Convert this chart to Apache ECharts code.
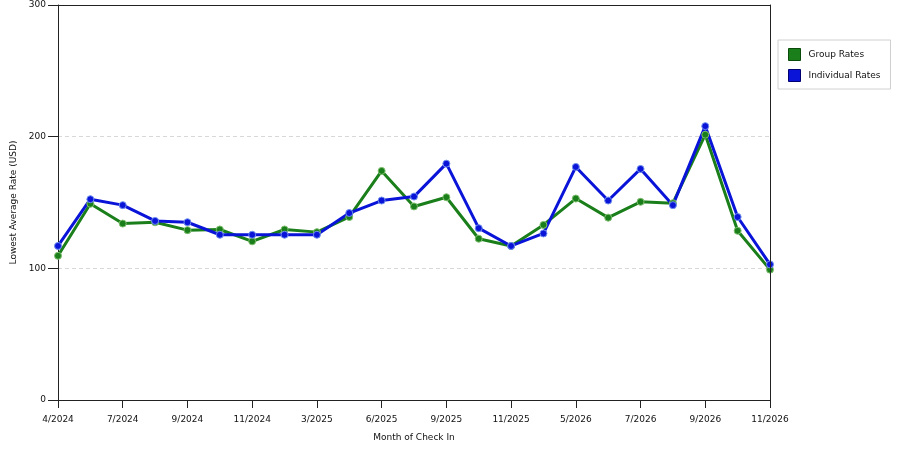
<!DOCTYPE html>
<html>
<head>
<meta charset="utf-8">
<script src="https://cdn.jsdelivr.net/npm/echarts@6/dist/echarts.min.js"></script>
<style>
  html, body { margin: 0; padding: 0; background: #fff; }
  #chart { width: 900px; height: 450px; }
</style>
</head>
<body>
<div id="chart"></div>
<script>
// ── Data ────────────────────────────────────────────────────────────────────
var months = ['4/2024', '6/2024', '7/2024', '8/2024', '9/2024', '10/2024', '11/2024', '12/2024',
              '3/2025', '5/2025', '6/2025', '8/2025', '9/2025', '10/2025', '11/2025', '3/2026',
              '5/2026', '6/2026', '7/2026', '8/2026', '9/2026', '10/2026', '11/2026'];
var groupRates = [109.5, 149, 134, 135, 129, 129.5, 120.5, 129.5, 127.5, 139, 174, 147, 154,
                  122.5, 117, 133, 153, 138.5, 150.5, 149.5, 201.5, 128.5, 99];
var individualRates = [117, 152.5, 148, 136, 135, 125.5, 125.5, 125.5, 125.5, 142, 151.5, 154.5, 179.5,
                       130.5, 117, 126.5, 177, 151.5, 175.5, 148, 208, 139, 103];
var yTicks = { min: 0, max: 300, interval: 100 };

var GREEN = '#1a7f1a', BLUE = '#0a14d8';
var FONT = 'DejaVu Sans';

var chart = echarts.init(document.getElementById('chart'), null, { renderer: 'canvas' });

// frame lines (top and right) drawn as bare axes
var bareLine = { show: true, onZero: false, lineStyle: { color: '#222', width: 1 } };

chart.setOption({
  animation: false,
  backgroundColor: '#fff',
  textStyle: { fontFamily: FONT },
  grid: { left: 58, right: 130, top: 5, bottom: 50 },
  legend: {
    orient: 'vertical',
    left: 778, top: 40,
    padding: [8, 10, 7, 10],
    itemGap: 8,
    itemWidth: 12, itemHeight: 12,
    icon: 'rect',
    borderColor: '#d0d0d0', borderWidth: 1,
    backgroundColor: '#fff',
    textStyle: { fontFamily: FONT, fontSize: 9, color: '#111', padding: [0, 0, 0, 3] },
    data: [
      { name: 'Group Rates', itemStyle: { color: GREEN, borderColor: '#0a4a0a', borderWidth: 1 } },
      { name: 'Individual Rates', itemStyle: { color: BLUE, borderColor: '#000070', borderWidth: 1 } }
    ]
  },
  xAxis: [{
    type: 'category',
    data: months,
    boundaryGap: false,
    name: 'Month of Check In',
    nameLocation: 'middle',
    nameGap: 33,
    nameTextStyle: { fontFamily: FONT, fontSize: 9, color: '#111' },
    axisLine: bareLine,
    axisTick: { show: true, interval: 1, length: 8, lineStyle: { color: '#222' } },
    axisLabel: { interval: 1, fontFamily: FONT, fontSize: 9, color: '#111', margin: 15 },
    splitLine: { show: false }
  }, {
    type: 'category',
    data: months,
    boundaryGap: false,
    position: 'top',
    z: 5,
    axisLine: bareLine,
    axisTick: { show: false },
    axisLabel: { show: false },
    splitLine: { show: false }
  }],
  yAxis: [{
    type: 'value',
    min: yTicks.min, max: yTicks.max, interval: yTicks.interval,
    name: 'Lowest Average Rate (USD)',
    nameLocation: 'middle',
    nameGap: 39,
    nameTextStyle: { fontFamily: FONT, fontSize: 9, color: '#111' },
    axisLine: bareLine,
    axisTick: { show: true, length: 10, lineStyle: { color: '#222' } },
    axisLabel: { fontFamily: FONT, fontSize: 9, color: '#111', margin: 12 },
    splitLine: { show: true, showMinLine: false, showMaxLine: false,
                 lineStyle: { color: '#d8d8d8', type: [4, 3] } }
  }, {
    type: 'value',
    min: yTicks.min, max: yTicks.max, interval: yTicks.interval,
    position: 'right',
    z: 5,
    axisLine: bareLine,
    axisTick: { show: false },
    axisLabel: { show: false },
    splitLine: { show: false }
  }],
  series: [{
    name: 'Group Rates',
    type: 'line',
    data: groupRates,
    symbol: 'circle',
    symbolSize: 7,
    lineStyle: { color: GREEN, width: 3 },
    itemStyle: { color: GREEN, borderColor: '#7fbf6f', borderWidth: 1 }
  }, {
    name: 'Individual Rates',
    type: 'line',
    data: individualRates,
    symbol: 'circle',
    symbolSize: 7,
    lineStyle: { color: BLUE, width: 3 },
    itemStyle: { color: BLUE, borderColor: '#6f8fef', borderWidth: 1 }
  }]
});
</script>
</body>
</html>
